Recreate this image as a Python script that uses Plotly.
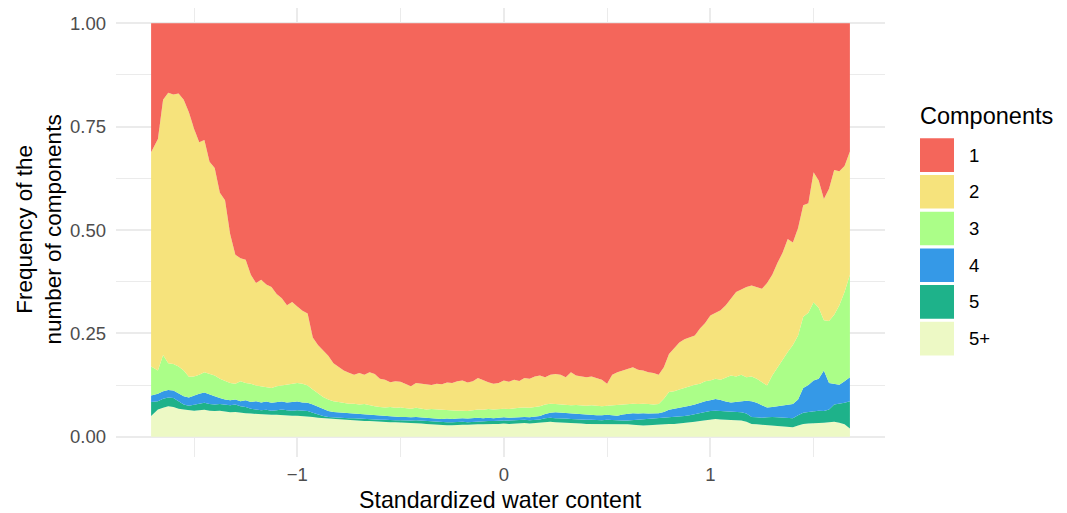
import plotly.graph_objects as go

# standardized water content (sampling grid)
water = [
    -1.708, -1.675, -1.650, -1.625, -1.600, -1.575, -1.550, -1.525, -1.500, -1.475,
    -1.450, -1.425, -1.400, -1.375, -1.350, -1.325, -1.300, -1.275, -1.250, -1.225,
    -1.200, -1.175, -1.150, -1.125, -1.100, -1.075, -1.050, -1.025, -1.000, -0.975,
    -0.950, -0.925, -0.900, -0.875, -0.850, -0.825, -0.800, -0.775, -0.750, -0.725,
    -0.700, -0.675, -0.650, -0.625, -0.600, -0.575, -0.550, -0.525, -0.500, -0.475,
    -0.450, -0.425, -0.400, -0.375, -0.350, -0.325, -0.300, -0.275, -0.250, -0.225,
    -0.200, -0.175, -0.150, -0.125, -0.100, -0.075, -0.050, -0.025, 0.000, 0.025,
    0.050, 0.075, 0.100, 0.125, 0.150, 0.175, 0.200, 0.225, 0.250, 0.275,
    0.300, 0.325, 0.350, 0.375, 0.400, 0.425, 0.450, 0.475, 0.500, 0.525,
    0.550, 0.575, 0.600, 0.625, 0.650, 0.675, 0.700, 0.725, 0.750, 0.775,
    0.800, 0.825, 0.850, 0.875, 0.900, 0.925, 0.950, 0.975, 1.000, 1.025,
    1.050, 1.075, 1.100, 1.125, 1.150, 1.175, 1.200, 1.225, 1.250, 1.275,
    1.300, 1.325, 1.350, 1.375, 1.400, 1.425, 1.450, 1.475, 1.500, 1.525,
    1.550, 1.575, 1.600, 1.625, 1.650, 1.676,
]

# cumulative frequency at the top of each band (stacked from the bottom)
top_5plus = [
    0.050, 0.066, 0.070, 0.074, 0.072, 0.068, 0.066, 0.064, 0.063, 0.064,
    0.065, 0.063, 0.062, 0.063, 0.061, 0.059, 0.060, 0.058, 0.057, 0.056,
    0.055, 0.054, 0.054, 0.053, 0.053, 0.052, 0.052, 0.051, 0.051, 0.050,
    0.050, 0.048, 0.046, 0.045, 0.044, 0.043, 0.042, 0.041, 0.040, 0.040,
    0.039, 0.038, 0.038, 0.037, 0.036, 0.036, 0.035, 0.035, 0.035, 0.034,
    0.033, 0.033, 0.032, 0.031, 0.030, 0.029, 0.028, 0.028, 0.028, 0.029,
    0.029, 0.029, 0.030, 0.030, 0.030, 0.031, 0.031, 0.031, 0.032, 0.031,
    0.032, 0.032, 0.033, 0.032, 0.033, 0.034, 0.035, 0.036, 0.035, 0.035,
    0.034, 0.033, 0.033, 0.032, 0.031, 0.031, 0.031, 0.030, 0.031, 0.031,
    0.031, 0.030, 0.030, 0.029, 0.028, 0.027, 0.028, 0.029, 0.030, 0.031,
    0.031, 0.031, 0.032, 0.033, 0.034, 0.036, 0.038, 0.040, 0.042, 0.043,
    0.042, 0.041, 0.040, 0.040, 0.039, 0.036, 0.031, 0.030, 0.029, 0.028,
    0.027, 0.026, 0.025, 0.024, 0.023, 0.027, 0.031, 0.032, 0.032, 0.033,
    0.034, 0.035, 0.036, 0.034, 0.030, 0.020,
]
top_5 = [
    0.084, 0.086, 0.092, 0.095, 0.094, 0.086, 0.078, 0.075, 0.077, 0.080,
    0.082, 0.079, 0.078, 0.079, 0.077, 0.076, 0.078, 0.074, 0.072, 0.068,
    0.066, 0.064, 0.065, 0.063, 0.064, 0.066, 0.064, 0.063, 0.064, 0.063,
    0.062, 0.058, 0.054, 0.050, 0.048, 0.047, 0.046, 0.046, 0.045, 0.045,
    0.044, 0.043, 0.043, 0.042, 0.041, 0.041, 0.040, 0.040, 0.040, 0.039,
    0.039, 0.040, 0.039, 0.038, 0.037, 0.036, 0.035, 0.035, 0.035, 0.036,
    0.036, 0.035, 0.036, 0.037, 0.037, 0.038, 0.038, 0.039, 0.039, 0.039,
    0.040, 0.040, 0.041, 0.040, 0.041, 0.042, 0.045, 0.046, 0.045, 0.045,
    0.044, 0.043, 0.042, 0.042, 0.041, 0.041, 0.040, 0.040, 0.041, 0.040,
    0.040, 0.039, 0.039, 0.040, 0.040, 0.041, 0.042, 0.043, 0.044, 0.045,
    0.046, 0.047, 0.048, 0.050, 0.052, 0.055, 0.058, 0.060, 0.062, 0.063,
    0.062, 0.061, 0.060, 0.060, 0.059, 0.056, 0.048, 0.047, 0.046, 0.047,
    0.048, 0.047, 0.046, 0.046, 0.045, 0.052, 0.058, 0.060, 0.061, 0.063,
    0.062, 0.066, 0.078, 0.080, 0.082, 0.086,
]
top_4 = [
    0.100, 0.104, 0.110, 0.113, 0.112, 0.104, 0.098, 0.095, 0.100, 0.104,
    0.107, 0.102, 0.098, 0.094, 0.090, 0.088, 0.090, 0.086, 0.088, 0.084,
    0.086, 0.083, 0.085, 0.082, 0.084, 0.085, 0.083, 0.084, 0.085, 0.083,
    0.082, 0.078, 0.072, 0.066, 0.062, 0.060, 0.059, 0.058, 0.057, 0.056,
    0.056, 0.055, 0.054, 0.052, 0.051, 0.050, 0.050, 0.049, 0.048, 0.048,
    0.047, 0.048, 0.047, 0.046, 0.045, 0.044, 0.043, 0.044, 0.043, 0.044,
    0.045, 0.044, 0.045, 0.046, 0.045, 0.046, 0.045, 0.046, 0.047, 0.046,
    0.047, 0.048, 0.048, 0.047, 0.048, 0.050, 0.055, 0.058, 0.059, 0.058,
    0.057, 0.056, 0.055, 0.054, 0.053, 0.053, 0.052, 0.052, 0.053, 0.052,
    0.051, 0.054, 0.056, 0.057, 0.056, 0.057, 0.056, 0.056, 0.057, 0.060,
    0.065, 0.068, 0.070, 0.073, 0.075, 0.078, 0.082, 0.086, 0.088, 0.091,
    0.089, 0.085, 0.083, 0.084, 0.086, 0.087, 0.086, 0.082, 0.076, 0.071,
    0.072, 0.074, 0.076, 0.078, 0.079, 0.090, 0.118, 0.125, 0.136, 0.140,
    0.160, 0.130, 0.128, 0.126, 0.134, 0.144,
]
top_3 = [
    0.170, 0.160, 0.198, 0.178, 0.176, 0.170, 0.160, 0.145, 0.146, 0.150,
    0.156, 0.152, 0.148, 0.140, 0.134, 0.130, 0.128, 0.134, 0.130, 0.128,
    0.124, 0.122, 0.120, 0.118, 0.122, 0.124, 0.126, 0.128, 0.130, 0.128,
    0.124, 0.114, 0.104, 0.096, 0.090, 0.086, 0.084, 0.082, 0.080, 0.080,
    0.078, 0.079, 0.076, 0.074, 0.072, 0.071, 0.072, 0.070, 0.071, 0.070,
    0.068, 0.070, 0.068, 0.066, 0.067, 0.066, 0.065, 0.064, 0.064, 0.063,
    0.063, 0.062, 0.064, 0.066, 0.065, 0.067, 0.066, 0.067, 0.068, 0.067,
    0.069, 0.070, 0.071, 0.070, 0.072, 0.074, 0.078, 0.080, 0.079, 0.078,
    0.077, 0.076, 0.077, 0.076, 0.075, 0.076, 0.075, 0.074, 0.075, 0.076,
    0.077, 0.078, 0.079, 0.080, 0.079, 0.080, 0.079, 0.078, 0.079, 0.092,
    0.108, 0.110, 0.114, 0.118, 0.122, 0.126, 0.128, 0.134, 0.136, 0.140,
    0.138, 0.144, 0.148, 0.146, 0.150, 0.144, 0.146, 0.140, 0.132, 0.124,
    0.148, 0.168, 0.185, 0.205, 0.222, 0.245, 0.290, 0.300, 0.325, 0.312,
    0.282, 0.280, 0.295, 0.318, 0.350, 0.392,
]
top_2 = [
    0.688, 0.720, 0.815, 0.832, 0.828, 0.830, 0.815, 0.785, 0.745, 0.712,
    0.718, 0.665, 0.650, 0.590, 0.572, 0.490, 0.440, 0.432, 0.428, 0.392,
    0.372, 0.380, 0.368, 0.362, 0.345, 0.335, 0.318, 0.326, 0.315, 0.305,
    0.298, 0.240, 0.222, 0.208, 0.196, 0.178, 0.170, 0.160, 0.155, 0.150,
    0.154, 0.150, 0.156, 0.152, 0.140, 0.138, 0.132, 0.134, 0.133, 0.128,
    0.122, 0.130, 0.128, 0.126, 0.125, 0.128, 0.127, 0.131, 0.130, 0.134,
    0.136, 0.131, 0.134, 0.142, 0.136, 0.132, 0.128, 0.130, 0.136, 0.133,
    0.138, 0.135, 0.142, 0.140, 0.146, 0.148, 0.144, 0.150, 0.152, 0.150,
    0.144, 0.156, 0.148, 0.146, 0.144, 0.146, 0.142, 0.138, 0.128, 0.150,
    0.156, 0.160, 0.164, 0.168, 0.162, 0.160, 0.156, 0.154, 0.150, 0.168,
    0.200, 0.214, 0.228, 0.236, 0.240, 0.245, 0.262, 0.275, 0.293, 0.300,
    0.306, 0.318, 0.335, 0.350, 0.356, 0.362, 0.366, 0.362, 0.358, 0.372,
    0.392, 0.420, 0.445, 0.478, 0.470, 0.505, 0.560, 0.565, 0.640, 0.620,
    0.575, 0.600, 0.645, 0.642, 0.655, 0.690,
]
top_1 = [1.0] * len(water)

components = ["1", "2", "3", "4", "5", "5+"]
colors = ["#F4665B", "#F6E37C", "#ABFE88", "#3599E7", "#1EB28A", "#EDF9C5"]

# bottom to top drawing order
bands = [
    ("5+", top_5plus), ("5", top_5), ("4", top_4),
    ("3", top_3), ("2", top_2), ("1", top_1),
]
col_of = dict(zip(components, colors))

# the page body has an 8px margin, so the figure starts at (8, 8) on screen
OFF = 8
W, H = 1067, 513
L, R, T, B = 108, 190, 0, 64
PW, PH = W - L - R, H - T - B


def paper(px, py):
    """screen pixel -> paper coords"""
    fx, fy = px - OFF, py - OFF
    return (fx - L) / PW, (H - B - fy) / PH


fig = go.Figure()
for i, (name, top) in enumerate(bands):
    fig.add_trace(go.Scatter(
        x=water, y=top, name=name, mode="lines",
        line=dict(width=0, color=col_of[name]),
        fill="tozeroy" if i == 0 else "tonexty",
        fillcolor=col_of[name], showlegend=False, hoverinfo="skip",
    ))

FONT = "Liberation Sans, Arial, sans-serif"
GRID = "#EBEBEB"

fig.update_layout(
    width=W, height=H,
    margin=dict(l=L, r=R, t=T, b=B, autoexpand=False),
    paper_bgcolor="white", plot_bgcolor="white",
    font=dict(family=FONT, size=18.5, color="#4D4D4D"),
    showlegend=False,
)
fig.update_xaxes(
    range=[-1.878, 1.846], tick0=0, dtick=1, showgrid=True,
    gridcolor=GRID, gridwidth=1.8, zeroline=False, showline=False,
    ticks="", ticklabelstandoff=4, automargin=False,
    minor=dict(dtick=0.5, showgrid=True, gridcolor=GRID, gridwidth=0.9),
)
fig.update_yaxes(
    range=[-0.049, 1.037], tick0=0, dtick=0.25, tickformat=".2f", showgrid=True,
    gridcolor=GRID, gridwidth=1.8, zeroline=False, showline=False,
    ticks="", ticklabelstandoff=9, automargin=False,
    minor=dict(dtick=0.125, showgrid=True, gridcolor=GRID, gridwidth=0.9),
)

ann = []
# axis titles
ax, ay = paper(500.4, 500)
ann.append(dict(x=ax, y=ay, xref="paper", yref="paper", text="Standardized water content",
                showarrow=False, xanchor="center", yanchor="middle",
                font=dict(size=23.2, color="black")))
ax, ay = paper(38.5, 230)
ann.append(dict(x=ax, y=ay, xref="paper", yref="paper",
                text="Frequency of the<br>number of components", textangle=-90,
                showarrow=False, xanchor="center", yanchor="middle",
                font=dict(size=22.5, color="black")))

# legend drawn by hand to get ggplot-style square keys
shapes = []
ax, ay = paper(918, 116)
ann.append(dict(x=ax, y=ay, xref="paper", yref="paper", text="Components",
                showarrow=False, xanchor="left", yanchor="middle",
                font=dict(size=23.5, color="black")))
for i, (name, col) in enumerate(zip(components, colors)):
    top = 138.3 + i * 36.7
    x0, y0 = paper(920, top + 33.6)
    x1, y1 = paper(954, top)
    shapes.append(dict(type="rect", xref="paper", yref="paper",
                       x0=x0, x1=x1, y0=y0, y1=y1,
                       fillcolor=col, line=dict(width=0)))
    tx, ty = paper(967, top + 16.8)
    ann.append(dict(x=tx, y=ty, xref="paper", yref="paper", text=name,
                    showarrow=False, xanchor="left", yanchor="middle",
                    font=dict(size=18.5, color="black")))

fig.update_layout(annotations=ann, shapes=shapes)

fig.write_html("out.html")
